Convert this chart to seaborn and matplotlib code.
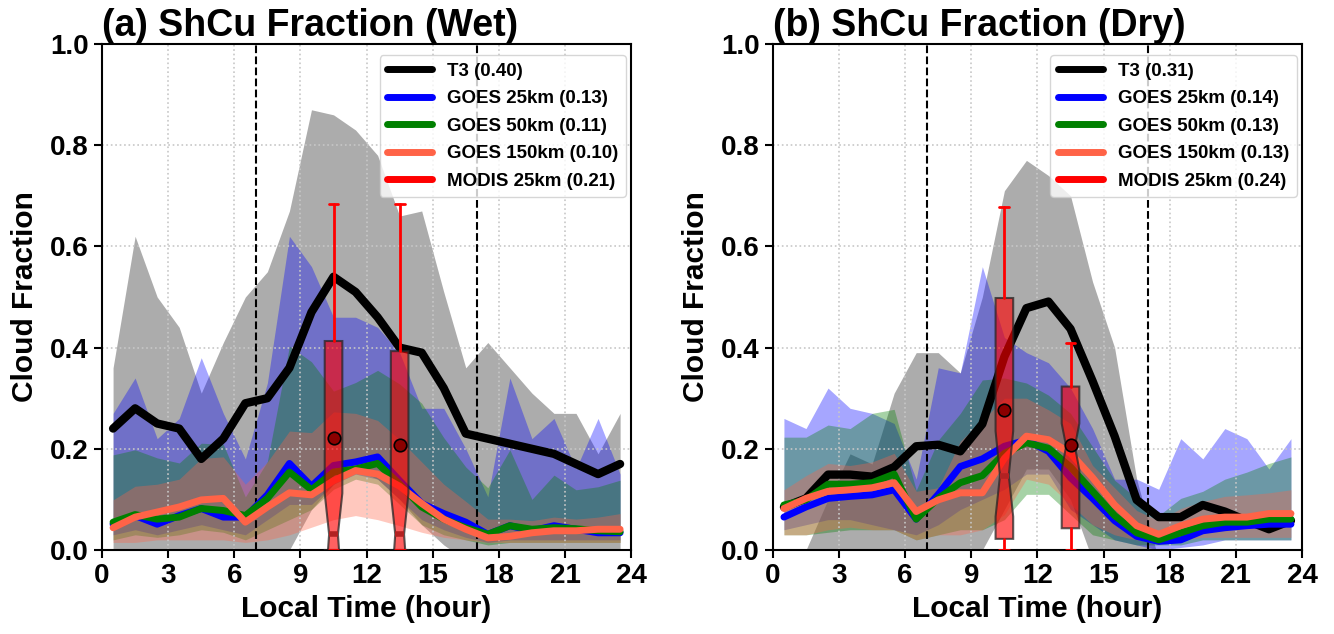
import numpy as np
import seaborn as sns
import matplotlib
matplotlib.use("Agg")
import matplotlib.pyplot as plt
from matplotlib.lines import Line2D

# hora local (centro de cada hora)
hours = np.arange(24) + 0.5

# ---------------- Wet ----------------
wet_t3 = [0.24, 0.28, 0.25, 0.24, 0.18, 0.22, 0.29, 0.30, 0.36, 0.47, 0.54, 0.51,
          0.46, 0.40, 0.39, 0.32, 0.23, 0.22, 0.21, 0.20, 0.19, 0.17, 0.15, 0.17]
wet_t3_lo = [-0.05, -0.05, -0.05, -0.05, -0.05, -0.05, -0.05, -0.03, 0.0, 0.08, 0.13, 0.16,
             0.14, 0.10, 0.05, 0.01, -0.02, -0.05, -0.05, -0.05, -0.05, -0.05, -0.05, -0.05]
wet_t3_hi = [0.36, 0.62, 0.50, 0.44, 0.31, 0.41, 0.50, 0.55, 0.67, 0.87, 0.86, 0.83,
             0.78, 0.66, 0.67, 0.51, 0.36, 0.41, 0.36, 0.31, 0.27, 0.27, 0.19, 0.27]

wet_g25 = [0.051, 0.068, 0.051, 0.068, 0.082, 0.065, 0.065, 0.109, 0.171, 0.126, 0.167, 0.174,
           0.184, 0.137, 0.092, 0.072, 0.055, 0.031, 0.048, 0.038, 0.048, 0.041, 0.034, 0.034]
wet_g25_lo = [0.03, 0.04, 0.03, 0.04, 0.05, 0.04, 0.03, 0.06, 0.09, 0.09, 0.13, 0.15,
              0.14, 0.10, 0.06, 0.04, 0.025, 0.015, 0.02, 0.02, 0.02, 0.02, 0.02, 0.02]
wet_g25_hi = [0.27, 0.34, 0.22, 0.26, 0.38, 0.27, 0.18, 0.33, 0.62, 0.56, 0.46, 0.46,
              0.44, 0.39, 0.28, 0.28, 0.20, 0.105, 0.34, 0.22, 0.26, 0.16, 0.26, 0.15]

wet_g50 = [0.055, 0.070, 0.061, 0.065, 0.082, 0.078, 0.068, 0.102, 0.154, 0.119, 0.154, 0.160,
           0.171, 0.130, 0.085, 0.061, 0.044, 0.031, 0.048, 0.041, 0.044, 0.042, 0.038, 0.036]
wet_g50_lo = [0.02, 0.03, 0.025, 0.03, 0.04, 0.035, 0.02, 0.04, 0.06, 0.08, 0.12, 0.14,
              0.13, 0.09, 0.05, 0.03, 0.02, 0.01, 0.015, 0.015, 0.015, 0.015, 0.015, 0.015]
wet_g50_hi = [0.188, 0.198, 0.182, 0.172, 0.211, 0.209, 0.105, 0.175, 0.403, 0.372, 0.314, 0.331,
              0.355, 0.328, 0.290, 0.222, 0.164, 0.123, 0.198, 0.100, 0.148, 0.119, 0.125, 0.138]

wet_g150 = [0.044, 0.065, 0.075, 0.085, 0.099, 0.102, 0.055, 0.085, 0.113, 0.109, 0.137, 0.157,
            0.150, 0.126, 0.092, 0.061, 0.041, 0.024, 0.027, 0.034, 0.038, 0.038, 0.041, 0.041]
wet_g150_lo = [0.015, 0.015, 0.02, 0.02, 0.02, 0.02, 0.015, 0.02, 0.03, 0.045, 0.06, 0.068,
               0.06, 0.048, 0.035, 0.025, 0.02, 0.015, 0.015, 0.015, 0.015, 0.015, 0.015, 0.015]
wet_g150_hi = [0.099, 0.126, 0.130, 0.140, 0.181, 0.184, 0.130, 0.174, 0.235, 0.232, 0.273, 0.270,
               0.256, 0.218, 0.174, 0.130, 0.096, 0.061, 0.061, 0.058, 0.065, 0.061, 0.065, 0.072]

wet_means = [0.40, 0.13, 0.11, 0.10, 0.21]

# MODIS (cajas) wet
wet_box_pos = [10.5, 13.5]
wet_box_q1 = [0.0, 0.0]
wet_box_med = [0.031, 0.031]
wet_box_q3 = [0.413, 0.393]
wet_box_lo = [0.0, 0.0]
wet_box_hi = [0.683, 0.683]
wet_box_mean = [0.221, 0.207]
wet_box_cilo = [-0.09, -0.09]
wet_box_cihi = [0.112, 0.112]

# ---------------- Dry ----------------
dry_t3 = [0.085, 0.102, 0.149, 0.149, 0.145, 0.164, 0.205, 0.208, 0.195, 0.249, 0.382, 0.478,
          0.491, 0.437, 0.334, 0.225, 0.099, 0.065, 0.065, 0.089, 0.076, 0.058, 0.041, 0.058]
dry_t3_lo = [-0.05, -0.05, -0.05, -0.05, -0.05, -0.05, -0.05, -0.05, -0.05, 0.0, 0.08, 0.16,
             0.16, 0.10, -0.02, -0.05, -0.05, -0.05, -0.05, -0.05, -0.05, -0.05, -0.05, -0.05]
dry_t3_hi = [-0.02, 0.0, 0.10, 0.19, 0.17, 0.31, 0.39, 0.39, 0.35, 0.50, 0.71, 0.77,
             0.74, 0.70, 0.53, 0.40, 0.14, -0.02, -0.02, -0.02, -0.02, -0.02, -0.02, -0.02]

dry_g25 = [0.065, 0.085, 0.102, 0.106, 0.109, 0.119, 0.061, 0.110, 0.165, 0.180, 0.205, 0.217,
           0.195, 0.143, 0.102, 0.058, 0.027, 0.017, 0.020, 0.038, 0.044, 0.048, 0.051, 0.051]
dry_g25_lo = [0.04, 0.05, 0.06, 0.06, 0.05, 0.04, 0.03, 0.05, 0.08, 0.10, 0.12, 0.15,
              0.15, 0.08, 0.05, 0.02, 0.01, 0.0, 0.005, 0.01, 0.02, 0.02, 0.02, 0.02]
dry_g25_hi = [0.26, 0.24, 0.32, 0.28, 0.27, 0.25, 0.14, 0.36, 0.35, 0.56, 0.42, 0.39,
              0.37, 0.32, 0.24, 0.14, 0.14, 0.12, 0.22, 0.18, 0.24, 0.22, 0.16, 0.22]

dry_g50 = [0.089, 0.099, 0.130, 0.130, 0.133, 0.150, 0.061, 0.102, 0.133, 0.147, 0.191, 0.212,
           0.201, 0.164, 0.116, 0.068, 0.034, 0.020, 0.034, 0.048, 0.055, 0.055, 0.061, 0.061]
dry_g50_lo = [0.03, 0.03, 0.035, 0.04, 0.04, 0.04, 0.02, 0.03, 0.04, 0.04, 0.06, 0.11,
              0.11, 0.07, 0.03, 0.02, 0.01, 0.01, 0.01, 0.02, 0.02, 0.02, 0.02, 0.02]
dry_g50_hi = [0.223, 0.223, 0.247, 0.240, 0.270, 0.278, 0.118, 0.217, 0.270, 0.336, 0.340, 0.330,
              0.306, 0.270, 0.204, 0.138, 0.102, 0.068, 0.102, 0.116, 0.140, 0.154, 0.171, 0.184]

dry_g150 = [0.082, 0.102, 0.116, 0.119, 0.123, 0.133, 0.076, 0.099, 0.113, 0.113, 0.181, 0.225,
            0.218, 0.191, 0.143, 0.089, 0.048, 0.031, 0.048, 0.061, 0.065, 0.065, 0.072, 0.072]
dry_g150_lo = [0.03, 0.03, 0.04, 0.045, 0.04, 0.04, 0.02, 0.03, 0.03, 0.04, 0.07, 0.14,
               0.13, 0.09, 0.05, 0.03, 0.02, 0.015, 0.02, 0.025, 0.025, 0.025, 0.025, 0.025]
dry_g150_hi = [0.119, 0.147, 0.171, 0.167, 0.174, 0.191, 0.116, 0.123, 0.215, 0.256, 0.300, 0.300,
               0.277, 0.250, 0.167, 0.123, 0.078, 0.058, 0.082, 0.096, 0.106, 0.109, 0.113, 0.119]

dry_means = [0.31, 0.14, 0.13, 0.13, 0.24]

dry_box_pos = [10.5, 13.5]
dry_box_q1 = [0.022, 0.043]
dry_box_med = [0.147, 0.205]
dry_box_q3 = [0.498, 0.323]
dry_box_lo = [0.0, 0.0]
dry_box_hi = [0.677, 0.409]
dry_box_mean = [0.276, 0.207]
dry_box_cilo = [0.066, 0.158]
dry_box_cihi = [0.235, 0.250]

# estilos
names = ['T3', 'GOES 25km', 'GOES 50km', 'GOES 150km', 'MODIS 25km']
line_colors = ['black', 'blue', 'green', 'tomato']
line_widths = [6, 5, 5, 5]
band_colors = ['gray', 'blue', 'green', 'tomato']
band_alpha = [0.65, 0.35, 0.35, 0.35]

sns.set_style("ticks")
plt.rcParams['font.family'] = ['Liberation Sans', 'DejaVu Sans']
plt.rcParams['font.weight'] = 'bold'
plt.rcParams['axes.labelweight'] = 'bold'
plt.rcParams['axes.titleweight'] = 'bold'
plt.rcParams['text.color'] = 'black'
plt.rcParams['axes.labelcolor'] = 'black'
plt.rcParams['xtick.color'] = 'black'
plt.rcParams['ytick.color'] = 'black'

fig, axes = plt.subplots(1, 2, figsize=(13.34, 6.34), dpi=100)
fig.subplots_adjust(left=0.0765, right=0.976, bottom=0.1325, top=0.9306, wspace=0.268)


def draw_panel(ax, title, lines, lows, highs, means, bpos, q1, med, q3, wlo, whi, bmean, cilo, cihi):
    # bandas de dispersion
    for lo, hi, c, a in zip(lows, highs, band_colors, band_alpha):
        ax.fill_between(hours, lo, hi, color=c, alpha=a, lw=0, zorder=1)

    # lineas de ciclo diurno
    for vals, c, lw in zip(lines, line_colors, line_widths):
        sns.lineplot(x=hours, y=vals, color=c, lw=lw, ax=ax, zorder=3)

    ax.axvline(7, color='black', ls='--', lw=1.5, zorder=2)
    ax.axvline(17, color='black', ls='--', lw=1.5, zorder=2)

    # MODIS como cajas con muesca
    stats = []
    for i in range(len(bpos)):
        stats.append(dict(q1=q1[i], med=med[i], q3=q3[i], whislo=wlo[i], whishi=whi[i],
                          mean=bmean[i], cilo=cilo[i], cihi=cihi[i], fliers=[]))
    ax.bxp(stats, positions=bpos, widths=0.8, shownotches=True, showmeans=True, patch_artist=True,
           manage_ticks=False, zorder=5, capwidths=0.45,
           boxprops=dict(facecolor=(1, 0, 0, 0.62), edgecolor=(0.15, 0.15, 0.15, 0.75), lw=1.5),
           whiskerprops=dict(color='red', lw=2),
           capprops=dict(color='red', lw=2),
           medianprops=dict(color='firebrick', lw=4),
           meanprops=dict(marker='o', markerfacecolor='darkred', markeredgecolor='black',
                          markersize=9, markeredgewidth=1.2))

    ax.set_xlim(0, 24)
    ax.set_ylim(0, 1)
    ax.set_xticks(np.arange(0, 25, 3))
    ax.set_yticks(np.arange(0, 1.01, 0.2))
    ax.set_axisbelow('line')
    ax.grid(True, ls=':', color='0.78', lw=1.2)
    ax.tick_params(labelsize=20, width=1.5, length=6, direction='out', colors='black')
    for sp in ax.spines.values():
        sp.set_linewidth(1.5)
        sp.set_color('black')
    ax.set_xlabel('Local Time (hour)', fontsize=21.5, labelpad=4)
    ax.set_ylabel('Cloud Fraction', fontsize=21.5, labelpad=8)
    ax.set_title(title, loc='left', fontsize=27, pad=4)

    handles = [Line2D([], [], color=c, lw=5) for c in line_colors + ['red']]
    labels = [f'{n} ({m:.2f})' for n, m in zip(names, means)]
    ax.legend(handles, labels, loc='upper right', bbox_to_anchor=(0.997, 0.985),
              prop=dict(weight='bold', size=13.5), handlelength=2.4, handletextpad=0.8,
              labelspacing=0.55, borderaxespad=0.2, framealpha=0.8)


draw_panel(axes[0], '(a) ShCu Fraction (Wet)',
           [wet_t3, wet_g25, wet_g50, wet_g150],
           [wet_t3_lo, wet_g25_lo, wet_g50_lo, wet_g150_lo],
           [wet_t3_hi, wet_g25_hi, wet_g50_hi, wet_g150_hi],
           wet_means, wet_box_pos, wet_box_q1, wet_box_med, wet_box_q3,
           wet_box_lo, wet_box_hi, wet_box_mean, wet_box_cilo, wet_box_cihi)

draw_panel(axes[1], '(b) ShCu Fraction (Dry)',
           [dry_t3, dry_g25, dry_g50, dry_g150],
           [dry_t3_lo, dry_g25_lo, dry_g50_lo, dry_g150_lo],
           [dry_t3_hi, dry_g25_hi, dry_g50_hi, dry_g150_hi],
           dry_means, dry_box_pos, dry_box_q1, dry_box_med, dry_box_q3,
           dry_box_lo, dry_box_hi, dry_box_mean, dry_box_cilo, dry_box_cihi)

fig.savefig('out.png', dpi=100)
